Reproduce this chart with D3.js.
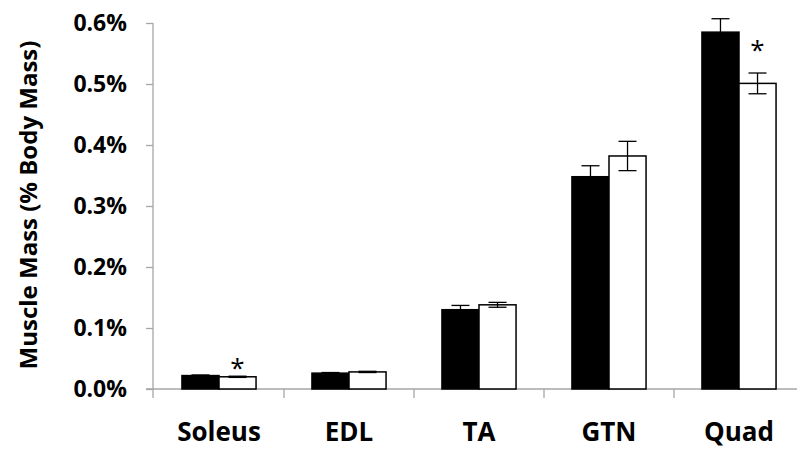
<!DOCTYPE html>
<html>
<head>
<meta charset="utf-8">
<script src="https://cdn.jsdelivr.net/npm/d3@7"></script>
<style>
body { margin: 0; background: #fff; }
text { font-family: "Open Sans", sans-serif; }
</style>
</head>
<body>
<svg id="chart"></svg>
<script>
var categories = ["Soleus", "EDL", "TA", "GTN", "Quad"];
var series = ["black", "white"];
var blackValues = [0.022, 0.026, 0.130, 0.348, 0.585];
var blackErrors = [0.001, 0.001, 0.007, 0.018, 0.022];
var whiteValues = [0.020, 0.028, 0.138, 0.382, 0.501];
var whiteErrors = [0.001, 0.001, 0.004, 0.024, 0.017];
var yTicks = [0, 0.1, 0.2, 0.3, 0.4, 0.5, 0.6];
var stars = [{cat: "Soleus", y: 0.043}, {cat: "Quad", y: 0.564}];

var width = 797, height = 451;
var svg = d3.select("#chart").attr("width", width).attr("height", height);

var x = d3.scaleBand().domain(categories).range([154, 804])
    .paddingInner(0.43).paddingOuter(0.215);
var x1 = d3.scaleBand().domain(series).range([0, x.bandwidth()]);
var y = d3.scaleLinear().domain([0, 0.6]).range([389, 23]);

var data = [];
categories.forEach(function(c, i){
    data.push({cat: c, s: "black", v: blackValues[i], e: blackErrors[i]});
    data.push({cat: c, s: "white", v: whiteValues[i], e: whiteErrors[i]});
});

// axes
var yAxis = svg.append("g").attr("transform", "translate(153,0)")
    .call(d3.axisLeft(y).tickValues(yTicks).tickSize(7).tickPadding(19)
        .tickFormat(function(d){ return d3.format(".1f")(d) + "%"; }));
yAxis.select(".domain").remove();
yAxis.append("line").attr("x1", 0).attr("x2", 0).attr("y1", 23).attr("y2", 398);
yAxis.selectAll("line").attr("stroke", "#a6a6a6").attr("stroke-width", 1.3);
yAxis.selectAll("text").attr("font-size", "23px").attr("font-weight", "bold")
    .attr("fill", "#000").style("font-family", "'Open Sans', sans-serif");

var xg = svg.append("g");
xg.append("line").attr("x1", 146).attr("x2", 797).attr("y1", 389).attr("y2", 389)
    .attr("stroke", "#a6a6a6").attr("stroke-width", 1.3);
xg.selectAll(".sep").data(categories.slice(1)).enter().append("line")
    .attr("x1", function(d){ return x(d) - x.step() * 0.215; })
    .attr("x2", function(d){ return x(d) - x.step() * 0.215; })
    .attr("y1", 389).attr("y2", 398)
    .attr("stroke", "#a6a6a6").attr("stroke-width", 1.3);
xg.selectAll(".lab").data(categories).enter().append("text")
    .attr("x", function(d){ return x(d) + x.bandwidth() / 2; })
    .attr("y", 441)
    .attr("text-anchor", "middle")
    .attr("font-size", "26px").attr("font-weight", "bold")
    .text(function(d){ return d; });

// y title
svg.append("text")
    .attr("transform", "translate(37,205) rotate(-90)")
    .attr("text-anchor", "middle")
    .attr("font-size", "24px").attr("font-weight", "bold")
    .text("Muscle Mass (% Body Mass)");

// bars
svg.selectAll(".bar").data(data).enter().append("rect")
    .attr("x", function(d){ return x(d.cat) + x1(d.s); })
    .attr("y", function(d){ return y(d.v); })
    .attr("width", x1.bandwidth())
    .attr("height", function(d){ return y(0) - y(d.v); })
    .attr("fill", function(d){ return d.s == "black" ? "#000" : "#fff"; })
    .attr("stroke", "#000").attr("stroke-width", 1.5);

// error bars
var eb = svg.selectAll(".err").data(data).enter().append("g")
    .attr("transform", function(d){ return "translate(" + (x(d.cat) + x1(d.s) + x1.bandwidth() / 2) + ",0)"; });
eb.append("line").attr("x1", 0).attr("x2", 0)
    .attr("y1", function(d){ return y(d.v - d.e); })
    .attr("y2", function(d){ return y(d.v + d.e); })
    .attr("stroke", "#000").attr("stroke-width", 1.3);
eb.append("line").attr("x1", -9).attr("x2", 9)
    .attr("y1", function(d){ return y(d.v + d.e); })
    .attr("y2", function(d){ return y(d.v + d.e); })
    .attr("stroke", "#000").attr("stroke-width", 1.3);
eb.append("line").attr("x1", -9).attr("x2", 9)
    .attr("y1", function(d){ return y(d.v - d.e); })
    .attr("y2", function(d){ return y(d.v - d.e); })
    .attr("stroke", "#000").attr("stroke-width", 1.3);

// significance
svg.selectAll(".star").data(stars).enter().append("text")
    .attr("x", function(d){ return x(d.cat) + x1("white") + x1.bandwidth() / 2; })
    .attr("y", function(d){ return y(d.y) + 14; })
    .attr("text-anchor", "middle")
    .attr("font-size", "26px")
    .text("*");
</script>
</body>
</html>
